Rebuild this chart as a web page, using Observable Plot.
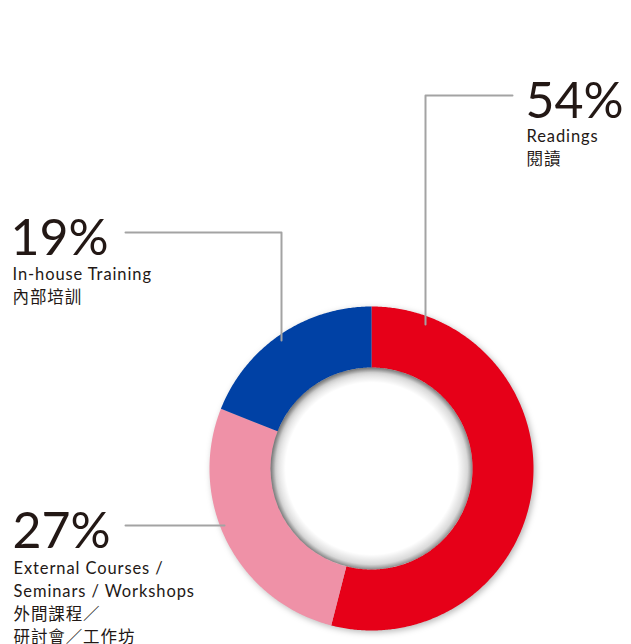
<!DOCTYPE html>
<html><head><meta charset="utf-8">
<script src="https://cdn.jsdelivr.net/npm/d3@7"></script>
<script src="https://cdn.jsdelivr.net/npm/@observablehq/plot@0.6"></script>
<style>html,body{margin:0;padding:0;background:#fff}#chart svg{display:block}</style>
</head><body><div id="chart"></div>
<script>
// ---- data ----
const categories = ["Readings", "External Courses / Seminars / Workshops", "In-house Training"];
const percents = [54, 27, 19];
const percentLabels = ["54%", "27%", "19%"];
const englishLabels = ["Readings", "External Courses /\nSeminars / Workshops", "In-house Training"];
const chineseLabels = ["閱讀", "外間課程／\n研討會／工作坊", "內部培訓"];
const colors = ["#E60018", "#EF91A7", "#0041A5"];

// ---- layout ----
const W = 631, H = 644;
const cx = 371, cy = 468, rOuter = 162, rInner = 101;
const layout = [
  {numX: 525, numY: 117, textX: 526, textY: 125.5, leader: [[512, 95], [425, 95], [425, 324]]},
  {numX: 12, numY: 547, textX: 13, textY: 557, leader: [[125, 525], [224, 525]]},
  {numX: 10, numY: 254, textX: 12, textY: 263, leader: [[125, 232], [281, 232], [281, 340]]}
];
const ink = "#231815";
const font = "Lato, 'Noto Sans CJK TC', sans-serif";

// ---- derived tables ----
const total = d3.sum(percents);
let acc = 0;
const arcPoints = [];
categories.forEach((c, i) => {
  const a0 = acc / total * 2 * Math.PI;
  acc += percents[i];
  const a1 = acc / total * 2 * Math.PI;
  const n = Math.max(2, Math.ceil((a1 - a0) / (Math.PI / 360)));
  for (let k = 0; k <= n; k++) {
    const a = a0 + (a1 - a0) * k / n;
    arcPoints.push({key: c, x: cx + rOuter * Math.sin(a), y: cy - rOuter * Math.cos(a)});
  }
  for (let k = n; k >= 0; k--) {
    const a = a0 + (a1 - a0) * k / n;
    arcPoints.push({key: c, x: cx + rInner * Math.sin(a), y: cy - rInner * Math.cos(a)});
  }
});
const leaderPoints = [];
categories.forEach((c, i) => layout[i].leader.forEach(([x, y]) => leaderPoints.push({key: c, x, y})));
const labelRows = categories.map((c, i) => ({
  key: c,
  num: percentLabels[i],
  body: englishLabels[i] + "\n" + chineseLabels[i],
  ...layout[i]
}));

const chart = Plot.plot({
  width: W, height: H,
  margin: 0,
  x: {domain: [0, W], range: [0, W], axis: null},
  y: {domain: [0, H], range: [0, H], axis: null},
  color: {domain: categories, range: colors},
  style: {background: "#fff", fontFamily: font},
  marks: [
    Plot.line(arcPoints, {x: "x", y: "y", z: "key", fill: "key", stroke: "none", curve: "linear"}),
    Plot.dot([{x: cx, y: cy}], {x: "x", y: "y", r: rInner, fill: "url(#holeShadow)", stroke: "none"}),
    Plot.line(leaderPoints, {x: "x", y: "y", z: "key", stroke: "#a3a3a3", strokeWidth: 2}),
    Plot.text(labelRows, {x: "numX", y: "numY", text: "num", fontSize: 50, fontWeight: 400,
      lineAnchor: "bottom", textAnchor: "start", fill: ink, fontFamily: font}),
    Plot.text(labelRows, {x: "textX", y: "textY", text: "body", fontSize: 16.5, lineHeight: 23 / 16.5,
      lineAnchor: "top", textAnchor: "start", fill: ink, fontFamily: font})
  ]
});

// defs for shadows, letter spacing of the body labels
const svg = d3.select(chart);
const defs = svg.insert("defs", ":first-child");
const g = defs.append("radialGradient").attr("id", "holeShadow").attr("cx", "50%").attr("cy", "50%").attr("r", "50%");
g.append("stop").attr("offset", "0.85").attr("stop-color", "#000").attr("stop-opacity", 0);
g.append("stop").attr("offset", "0.95").attr("stop-color", "#000").attr("stop-opacity", 0.15);
g.append("stop").attr("offset", "1").attr("stop-color", "#000").attr("stop-opacity", 0.42);
svg.select("g[aria-label='line']").style("filter", "drop-shadow(2px 2px 3px rgba(0,0,0,0.28))");
const texts = svg.selectAll("g[aria-label='text']").nodes();
d3.select(texts[1]).style("letter-spacing", "0.9px");

document.getElementById("chart").appendChild(chart);
</script>
</body></html>
